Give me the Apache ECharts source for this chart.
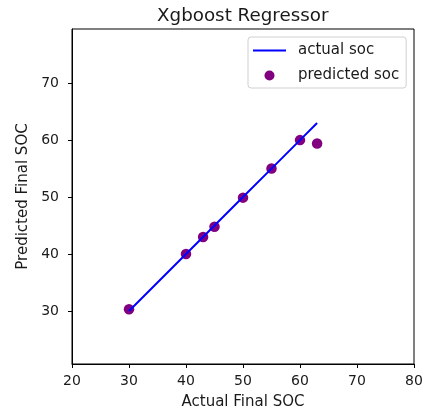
<!DOCTYPE html>
<html>
<head>
<meta charset="utf-8">
<script src="https://cdn.jsdelivr.net/npm/echarts@6/dist/echarts.min.js"></script>
<style>
  html, body { margin: 0; padding: 0; background: #fff; }
  #chart { width: 428px; height: 419px; }
</style>
</head>
<body>
<div id="chart"></div>
<script>
// Actual final SOC values and the regressor's predictions
const actualSoc = [30, 40, 43, 45, 50, 55, 60, 63];
const predictedSoc = [30.3, 40, 43, 44.8, 49.9, 55, 60, 59.4];
const xTicks = [20, 30, 40, 50, 60, 70, 80];
const yTicks = [30, 40, 50, 60, 70];

const FONT = 'DejaVu Sans';
const chart = echarts.init(document.getElementById('chart'), null, { renderer: 'canvas' });

const axisCommon = {
  type: 'value',
  nameLocation: 'middle',
  nameTextStyle: { fontFamily: FONT, fontSize: 15, color: '#1a1a1a' },
  axisLine: { show: true, onZero: false, lineStyle: { color: '#000', width: 1 } },
  axisTick: { show: true, inside: false, length: 4, lineStyle: { color: '#000' } },
  axisLabel: { fontFamily: FONT, fontSize: 14, color: '#1a1a1a' },
  splitLine: { show: false }
};

chart.setOption({
  backgroundColor: '#fff',
  animation: false,
  title: {
    text: 'Xgboost Regressor',
    left: 157, top: 7, padding: 0,
    textStyle: { fontFamily: FONT, fontSize: 18.3, fontWeight: 'normal', color: '#1a1a1a' }
  },
  grid: {
    left: 72, right: 14, top: 29, bottom: 55,
    show: true, borderColor: '#000', borderWidth: 1, backgroundColor: 'transparent'
  },
  legend: {
    orient: 'vertical',
    left: 248, top: 37,
    padding: [6, 7, 5, 5],
    itemGap: 10,
    itemWidth: 33, itemHeight: 10,
    backgroundColor: '#fff',
    borderColor: '#d0d0d0', borderWidth: 1, borderRadius: 3,
    textStyle: { fontFamily: FONT, fontSize: 15, color: '#1a1a1a', padding: [0, 0, 0, 7] },
    data: [
      { name: 'actual soc', icon: 'path://M0,0H33V2H0Z' },
      { name: 'predicted soc', icon: 'circle' }
    ]
  },
  xAxis: Object.assign({}, axisCommon, {
    min: 20, max: 80, interval: 10,
    name: 'Actual Final SOC', nameGap: 31,
    axisLabel: Object.assign({}, axisCommon.axisLabel, { margin: 10, customValues: xTicks }),
    axisTick: Object.assign({}, axisCommon.axisTick, { customValues: xTicks })
  }),
  yAxis: Object.assign({}, axisCommon, {
    min: 20.7, max: 79.5,
    name: 'Predicted Final SOC', nameGap: 41,
    axisLabel: Object.assign({}, axisCommon.axisLabel, { margin: 13, customValues: yTicks }),
    axisTick: Object.assign({}, axisCommon.axisTick, { customValues: yTicks })
  }),
  series: [
    {
      name: 'actual soc',
      type: 'line',
      data: actualSoc.map(v => [v, v]),
      symbol: 'none',
      lineStyle: { color: '#0000ff', width: 2 },
      itemStyle: { color: '#0000ff' },
      z: 3
    },
    {
      name: 'predicted soc',
      type: 'scatter',
      data: actualSoc.map((v, i) => [v, predictedSoc[i]]),
      symbol: 'circle',
      symbolSize: 10.5,
      itemStyle: { color: '#800080', opacity: 1 },
      z: 2
    }
  ]
});
</script>
</body>
</html>
